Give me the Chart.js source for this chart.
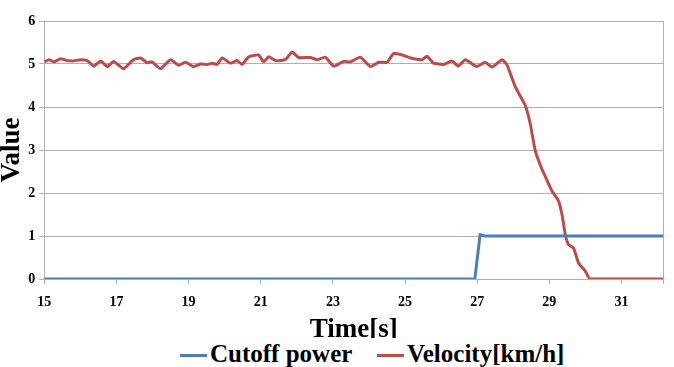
<!DOCTYPE html>
<html>
<head>
<meta charset="utf-8">
<script src="https://cdn.jsdelivr.net/npm/chart.js@4/dist/chart.umd.min.js"></script>
<style>
html,body{margin:0;padding:0;background:#fff;overflow:hidden;}
#page{position:relative;width:674px;height:367px;overflow:hidden;}
#wrap{position:absolute;left:0;top:0;width:674px;height:338px;}
.lg{position:absolute;font-family:'Liberation Serif','Times New Roman',serif;font-weight:bold;font-size:25px;line-height:25px;color:#000;white-space:nowrap;}
.sw{position:absolute;height:3px;}
</style>
</head>
<body>
<div id="page">
  <div id="wrap"><canvas id="c"></canvas></div>
  <div id="legend"></div>
</div>
<script>
// ---- data ----
const seriesNames = ["Cutoff power", "Velocity[km/h]"];
const cutoffTime  = [15, 26.85, 26.93, 27.08, 27.2, 32.15];
const cutoffValue = [0, 0, -0.02, 1.03, 1.0, 1.0];
const velocityTime = [15.00,15.13,15.27,15.45,15.64,15.78,16.01,16.19,16.37,16.56,16.75,16.92,17.20,17.47,17.67,17.85,17.99,18.22,18.50,18.72,18.91,19.14,19.33,19.52,19.65,19.79,19.93,20.16,20.35,20.48,20.67,20.94,21.08,21.22,21.41,21.68,21.87,22.05,22.38,22.56,22.79,23.02,23.30,23.48,23.76,24.04,24.27,24.50,24.68,24.92,25.15,25.47,25.61,25.79,26.07,26.30,26.48,26.67,26.99,27.22,27.41,27.69,27.83,28.06,28.33,28.47,28.61,28.79,28.88,29.07,29.25,29.35,29.44,29.53,29.67,29.81,30.00,30.13,32.15];
const velocityValue = [5.05,5.10,5.05,5.12,5.08,5.07,5.10,5.08,4.95,5.07,4.94,5.06,4.89,5.10,5.14,5.03,5.05,4.89,5.10,4.97,5.04,4.94,5.00,4.99,5.02,4.99,5.14,5.02,5.08,4.99,5.17,5.21,5.05,5.17,5.08,5.10,5.28,5.15,5.15,5.10,5.16,4.95,5.06,5.05,5.16,4.94,5.04,5.04,5.24,5.21,5.14,5.10,5.18,5.02,4.99,5.07,4.95,5.10,4.94,5.04,4.93,5.10,4.97,4.46,4.04,3.61,2.98,2.56,2.40,2.05,1.82,1.50,1.04,0.80,0.72,0.37,0.18,0,0];
const xTickLabels = [15,17,19,21,23,25,27,29,31];
const xMin = 15, xMax = 32.15;
const yTickLabels = [0,1,2,3,4,5,6];
const xTitle = "Time[s]";
const yTitle = "Value";

const toXY = (xs, ys) => xs.map((x, i) => ({x: x, y: ys[i]}));
const serif = "'Liberation Serif','Times New Roman',serif";
const gridGray = "#b0b0b0";
const colors = ["#4a7ebb", "#be4b48"];

// HTML legend (real text)
const legendPos = [{line: 180, text: 210}, {line: 377, text: 407}];
const lg = document.getElementById("legend");
seriesNames.forEach((name, i) => {
  const sw = document.createElement("div");
  sw.className = "sw";
  sw.style.left = legendPos[i].line + "px";
  sw.style.top = "354px";
  sw.style.width = "27px";
  sw.style.background = colors[i];
  lg.appendChild(sw);
  const t = document.createElement("div");
  t.className = "lg";
  t.style.left = legendPos[i].text + "px";
  t.style.top = "341px";
  t.textContent = name;
  lg.appendChild(t);
});

new Chart(document.getElementById("c"), {
  type: "line",
  data: {
    datasets: [
      {label: seriesNames[0], data: toXY(cutoffTime, cutoffValue), borderColor: colors[0], backgroundColor: colors[0], borderWidth: 3, pointRadius: 0, tension: 0},
      {label: seriesNames[1], data: toXY(velocityTime, velocityValue), borderColor: colors[1], backgroundColor: colors[1], borderWidth: 3, pointRadius: 0, tension: 0.15}
    ]
  },
  options: {
    responsive: true,
    maintainAspectRatio: false,
    animation: false,
    layout: {padding: {top: 21, right: 11, left: 0, bottom: 0}},
    plugins: {
      legend: {display: false},
      tooltip: {enabled: false}
    },
    scales: {
      x: {
        type: "linear",
        min: xMin, max: xMax,
        afterBuildTicks: axis => { axis.ticks = xTickLabels.concat([xMax]).map(v => ({value: v})); },
        ticks: {
          font: {family: serif, size: 14, weight: "bold"},
          color: "#000",
          maxRotation: 0,
          autoSkip: false,
          padding: 10,
          callback: v => xTickLabels.includes(v) ? String(v) : ""
        },
        grid: {
          color: ctx => (ctx.tick && ctx.tick.value === xMax) ? gridGray : "rgba(0,0,0,0)",
          tickColor: gridGray,
          tickLength: 5
        },
        border: {color: gridGray, width: 1},
        title: {display: true, text: xTitle, font: {family: serif, size: 27, weight: "bold", lineHeight: 0.6}, color: "#000", padding: {top: 1, bottom: 0}}
      },
      y: {
        min: 0, max: 6,
        afterBuildTicks: axis => { axis.ticks = yTickLabels.map(v => ({value: v})); },
        ticks: {font: {family: serif, size: 14, weight: "bold"}, color: "#000", padding: 4},
        grid: {color: gridGray, tickColor: gridGray, tickLength: 5},
        border: {color: gridGray, width: 1},
        title: {display: true, text: yTitle, font: {family: serif, size: 27, weight: "bold", lineHeight: 0.9}, color: "#000", padding: {top: 0, bottom: 0}}
      }
    }
  }
});
</script>
</body>
</html>
